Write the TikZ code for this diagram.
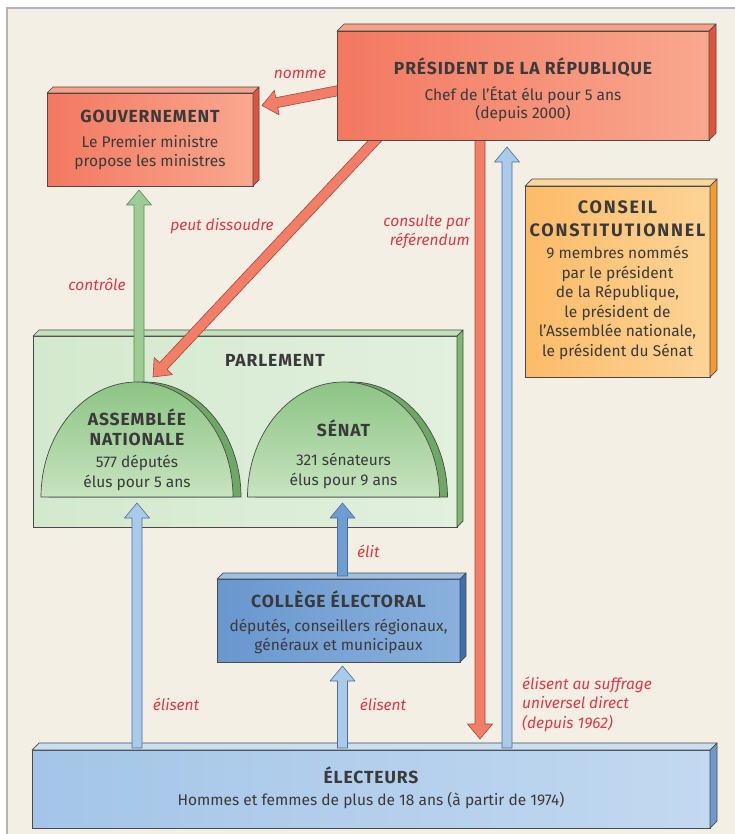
\documentclass[tikz,border=0pt]{standalone}
\usepackage{fontspec}
\setmainfont{Fira Sans}
\usetikzlibrary{calc}
\definecolor{bgc}{HTML}{F3EFE5}
\definecolor{framec}{HTML}{B4B4B4}
\definecolor{edgec}{HTML}{4A4A4A}
\definecolor{textc}{HTML}{3A3A3A}
\definecolor{labc}{HTML}{E03844}
\definecolor{redL}{HTML}{F37860}
\definecolor{redR}{HTML}{F9A88F}
\definecolor{redTop}{HTML}{F8A089}
\definecolor{redSide}{HTML}{E2533D}
\definecolor{orL}{HTML}{FDBB68}
\definecolor{orR}{HTML}{FDD496}
\definecolor{orTop}{HTML}{FDD89E}
\definecolor{orSide}{HTML}{F29B30}
\definecolor{parlL}{HTML}{D3E9CD}
\definecolor{parlR}{HTML}{E2F0DE}
\definecolor{parlTop}{HTML}{C3E1BB}
\definecolor{parlSide}{HTML}{7DB873}
\definecolor{domeTop}{HTML}{8CC484}
\definecolor{domeBot}{HTML}{C8E4C0}
\definecolor{domeSide}{HTML}{6EA865}
\definecolor{colL}{HTML}{6897CE}
\definecolor{colR}{HTML}{8AB1DD}
\definecolor{colTop}{HTML}{9CC0E6}
\definecolor{colSide}{HTML}{3E70AE}
\definecolor{elL}{HTML}{A4C5E8}
\definecolor{elR}{HTML}{C2D9F0}
\definecolor{elTop}{HTML}{CBDFF3}
\definecolor{elSide}{HTML}{6E9AC9}
\definecolor{arrRed}{HTML}{F27E68}
\definecolor{arrRedLine}{HTML}{A8473A}
\definecolor{arrBlue}{HTML}{AACAEC}
\definecolor{arrBlueLine}{HTML}{4E6F92}
\definecolor{arrMid}{HTML}{6E9DD3}
\definecolor{arrGreen}{HTML}{9ECC95}
\definecolor{arrGreenLine}{HTML}{5B8E53}
\pgfdeclarelayer{bg}
\pgfdeclarelayer{back}
\pgfsetlayers{bg,back,main}
\newcommand{\bodyfont}{\fontsize{15.5}{19.5}\selectfont}
\newcommand{\tf}{\fontsize{17.5}{20}\selectfont\bfseries\addfontfeature{LetterSpace=5}}
\newcommand{\tfw}{\fontsize{18}{20}\selectfont\bfseries\addfontfeature{LetterSpace=10}}
\newcommand{\extrude}[4]{%
  \filldraw[fill=#3, edgeline] (#1.north west) -- ++(#2,-#2) -- ($(#1.north east)+(#2,-#2)$) -- (#1.north east) -- cycle;
  \filldraw[fill=#4, edgeline] (#1.north east) -- ++(#2,-#2) -- ($(#1.south east)+(#2,-#2)$) -- (#1.south east) -- cycle;
}
\newcommand{\blockarrow}[3]{%
  \coordinate (bah) at ($(#3)!15pt!(#2)$);
  \draw[#1] ($(#2)!5pt!90:(#3)$) -- ($(bah)!5pt!90:(#3)$) -- ($(bah)!12.5pt!90:(#3)$) -- (#3)
    -- ($(bah)!12.5pt!-90:(#3)$) -- ($(bah)!5pt!-90:(#3)$) -- ($(#2)!5pt!-90:(#3)$) -- cycle;
}
\newcommand{\dome}[2]{%
  \filldraw[fill=domeSide, edgeline] ({#1-88},#2) arc[start angle=180,end angle=0,x radius=96pt,y radius=115pt] -- cycle;
  \draw[top color=domeTop, bottom color=domeBot, edgeline] ({#1-96},#2) arc[start angle=180,end angle=0,x radius=96pt,y radius=115pt] -- cycle;
}
\tikzset{
  edgeline/.style={draw=edgec, line width=0.7pt, line join=round},
  boxnode/.style={rectangle, inner sep=0pt, outer sep=0pt, draw=edgec, line width=0.7pt},
  txt/.style={align=center, text=textc, font=\bodyfont, inner sep=0pt},
  lab/.style={text=labc, font=\bodyfont\itshape, inner sep=0pt},
  redarrow/.style={fill=arrRed, draw=arrRedLine, line width=0.6pt, line join=round},
  bluearrow/.style={fill=arrBlue, draw=arrBlueLine, line width=0.6pt, line join=round},
  midarrow/.style={fill=arrMid, draw=arrBlueLine, line width=0.6pt, line join=round},
  greenarrow/.style={fill=arrGreen, draw=arrGreenLine, line width=0.6pt, line join=round}
}
\begin{document}
\begin{tikzpicture}[x=1pt,y=-1pt]
\useasboundingbox (0,0) rectangle (734,834);
\begin{pgfonlayer}{bg}
  \fill[white] (0,0) rectangle (734,834);
  \filldraw[fill=bgc, draw=framec, line width=1.2pt] (7,8) rectangle (750,850);
  \node[boxnode, left color=parlL, right color=parlR, minimum width=424pt, minimum height=191pt] (parl) at (245,431.5) {};
  \extrude{parl}{6}{parlTop}{parlSide}
  \node[txt, font=\tf] (parlT) at (275,360) {PARLEMENT};
\end{pgfonlayer}

% boxes
\node[boxnode, left color=redL, right color=redR, minimum width=372pt, minimum height=109pt] (pres) at (523,85.5) {};
\extrude{pres}{7}{redTop}{redSide}
\node[txt] (presT) at (523,90) {{\tf PRÉSIDENT DE LA RÉPUBLIQUE}\\[7pt]Chef de l’État élu pour 5 ans\\[-1.5pt](depuis 2000)};

\node[boxnode, left color=redL, right color=redR, minimum width=206pt, minimum height=93pt] (gouv) at (150,139.5) {};
\extrude{gouv}{6}{redTop}{redSide}
\node[txt] (gouvT) at (150,140) {{\tf GOUVERNEMENT}\\[5pt]Le Premier ministre\\propose les ministres};

\node[boxnode, left color=orL, right color=orR, minimum width=185pt, minimum height=191pt] (cons) at (617.5,281.5) {};
\extrude{cons}{7}{orTop}{orSide}
\node[txt] (consT) at (617.5,280.5) {{\tfw CONSEIL}\\[3pt]{\tfw CONSTITUTIONNEL}\\[3pt]9 membres nommés\\par le président\\de la République,\\le président de\\l’Assemblée nationale,\\le président du Sénat};

\node[boxnode, left color=colL, right color=colR, minimum width=243pt, minimum height=83pt] (coll) at (338.5,620.5) {};
\extrude{coll}{6}{colTop}{colSide}
\node[txt] (collT) at (338.5,622.5) {{\tf COLLÈGE ÉLECTORAL}\\[4pt]députés, conseillers régionaux,\\généraux et municipaux};

\node[boxnode, left color=elL, right color=elR, minimum width=678pt, minimum height=78pt] (elec) at (371,789) {};
\extrude{elec}{7}{elTop}{elSide}
\node[txt] (elecT) at (371,788) {{\tf ÉLECTEURS}\\[3pt]Hommes et femmes de plus de 18 ans (à partir de 1974)};

% arrows behind
\begin{pgfonlayer}{back}
  \coordinate (nS) at ($(pres.west)+(12,3)$);
  \coordinate (nT) at ($(gouv.east)+(9,-34)$);
  \blockarrow{redarrow}{nS}{nT}
  \coordinate (dS) at ($(pres.south west)+(48,-10)$);
  \coordinate (dT) at (153,377);
  \blockarrow{redarrow}{dS}{dT}
  \coordinate (rS) at ($(pres.south west)+(143,-10)$);
  \coordinate (rT) at ($(elec.north)+(109,-11)$);
  \blockarrow{redarrow}{rS}{rT}
  \coordinate (cS) at (139,395);
  \coordinate (cT) at ($(gouv.south)+(-11,4)$);
  \blockarrow{greenarrow}{cS}{cT}
\end{pgfonlayer}

% domes
\dome{137}{497}
\node[txt] (assT) at (137,450) {{\tf ASSEMBLÉE}\\{\tf NATIONALE}\\[3pt]577 députés\\élus pour 5 ans};
\dome{343.5}{497}
\node[txt] (senT) at (343.5,454) {{\tf SÉNAT}\\[10pt]321 sénateurs\\élus pour 9 ans};

% up arrows
\coordinate (e1S) at ($(elec.north west)+(105,-2)$);
\coordinate (e1T) at (137,503);
\blockarrow{bluearrow}{e1S}{e1T}
\coordinate (e2S) at ($(elec.north)+(-28.5,-2)$);
\coordinate (e2T) at ($(coll.south)+(4,4)$);
\blockarrow{bluearrow}{e2S}{e2T}
\coordinate (eS) at ($(coll.north)+(4,-3)$);
\coordinate (eT) at (342.5,503);
\blockarrow{midarrow}{eS}{eT}
\coordinate (sS) at ($(elec.north)+(136,-2)$);
\coordinate (sT) at ($(pres.south)+(-16,7)$);
\blockarrow{bluearrow}{sS}{sT}

% labels
\node[lab] (lNomme) at (300,74) {nomme};
\node[lab] (lDiss) at (222,226) {peut dissoudre};
\node[lab] (lCtrl) at (97,284) {contrôle};
\node[lab, align=right, anchor=east] (lRef) at (470,232) {consulte par\\référendum};
\node[lab, anchor=west] (lElit) at (357,551) {élit};
\node[lab] (lEl1) at (176,704) {élisent};
\node[lab] (lEl2) at (383,704) {élisent};
\node[lab, align=left, anchor=west] (lSuf) at (522,704) {élisent au suffrage\\universel direct\\(depuis 1962)};
\end{tikzpicture}
\end{document}
